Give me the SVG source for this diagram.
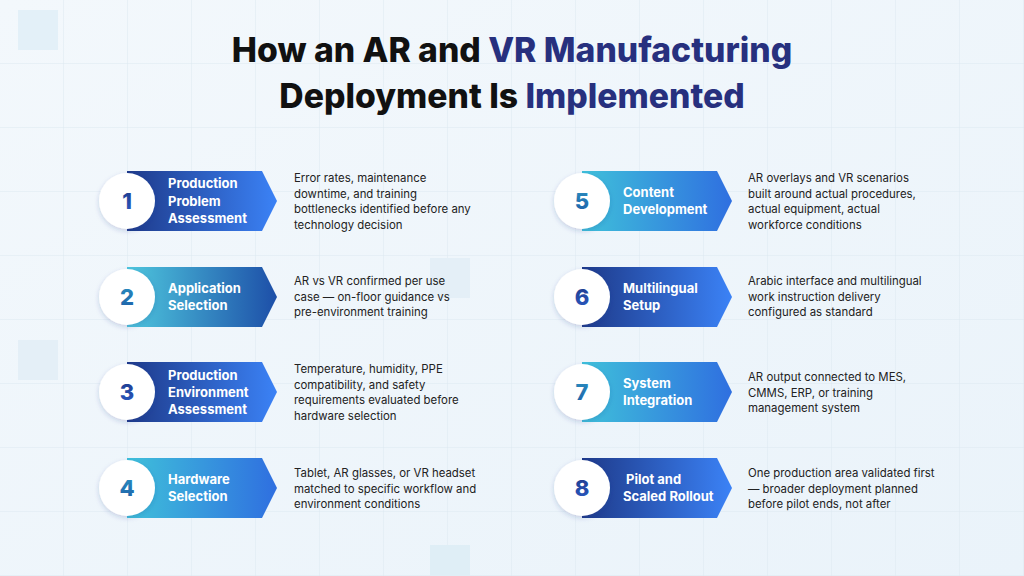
<svg xmlns="http://www.w3.org/2000/svg" width="1024" height="576" viewBox="0 0 1024 576">
<defs>
<linearGradient id="bg" x1="0" y1="0" x2="1" y2="1"><stop offset="0" stop-color="#f3f8fc"/><stop offset="1" stop-color="#eaf3fa"/></linearGradient>
<linearGradient id="gA" x1="0" y1="0" x2="1" y2="0"><stop offset="0" stop-color="#1e3a8a"/><stop offset="1" stop-color="#3b82f6"/></linearGradient>
<linearGradient id="gB" x1="0" y1="0" x2="1" y2="0"><stop offset="0" stop-color="#4ec6dd"/><stop offset="1" stop-color="#1d4fa8"/></linearGradient>
<linearGradient id="gC" x1="0" y1="0" x2="1" y2="0"><stop offset="0" stop-color="#3fc0da"/><stop offset="1" stop-color="#2f6fe0"/></linearGradient>
<linearGradient id="nA" x1="0" y1="0" x2="0" y2="1"><stop offset="0" stop-color="#1e3a8a"/><stop offset="1" stop-color="#2b5bc4"/></linearGradient>
<linearGradient id="nB" x1="0" y1="0" x2="0" y2="1"><stop offset="0" stop-color="#2a8fc0"/><stop offset="1" stop-color="#1d5fa8"/></linearGradient>
<filter id="sh" x="-30%" y="-30%" width="160%" height="160%"><feDropShadow dx="0" dy="2" stdDeviation="2.5" flood-color="#1e3a8a" flood-opacity="0.2"/></filter>
<pattern id="grid" width="64" height="64" patternUnits="userSpaceOnUse"><path d="M64 0V64H0" fill="none" stroke="#dde8f1" stroke-width="1"/></pattern>
</defs>
<style>
.t{font-family:Inter,"Liberation Sans",sans-serif;font-weight:800;font-size:33.7px;fill:#111}
.h{fill:#27307e}
.lb{font-family:Inter,"Liberation Sans",sans-serif;font-weight:700;font-size:13px;fill:#fff}
.num{font-family:Inter,"Liberation Sans",sans-serif;font-weight:800;font-size:22px;text-anchor:middle}
.d{font-family:Inter,"Liberation Sans",sans-serif;font-size:11.4px;fill:#222}
</style>
<rect width="1024" height="576" fill="url(#bg)"/>
<rect width="1024" height="576" fill="url(#grid)"/>
<rect x="18" y="10" width="40" height="40" fill="#dfeef6" opacity="0.8"/>
<rect x="430" y="545" width="40" height="31" fill="#dfeef6"/>
<rect x="430" y="258" width="40" height="40" fill="#e4eff7"/>
<rect x="18" y="340" width="40" height="40" fill="#e4eff7"/>
<text class="t" x="512" y="62" text-anchor="middle">How an AR and <tspan class="h">VR Manufacturing</tspan></text>
<text class="t" x="512" y="108" text-anchor="middle">Deployment Is <tspan class="h">Implemented</tspan></text>
<g id="connectors"/>
<g id="n1"><path d="M127 171H262L277 201L262 231H127Z" fill="url(#gA)"/><circle cx="127" cy="201" r="28" fill="#fff" filter="url(#sh)"/><text class="num" x="127" y="209" fill="url(#nA)">1</text>
<text class="lb" x="168" y="188">Production</text><text class="lb" x="168" y="206">Problem</text><text class="lb" x="168" y="223">Assessment</text>
<text class="d" x="294" y="182">Error rates, maintenance</text><text class="d" x="294" y="197.5">downtime, and training</text><text class="d" x="294" y="213">bottlenecks identified before any</text><text class="d" x="294" y="228.5">technology decision</text></g>
<g id="n2"><path d="M127 267H262L277 297L262 327H127Z" fill="url(#gB)"/><circle cx="127" cy="297" r="28" fill="#fff" filter="url(#sh)"/><text class="num" x="127" y="305" fill="url(#nB)">2</text>
<text class="lb" x="168" y="293">Application</text><text class="lb" x="168" y="310">Selection</text>
<text class="d" x="294" y="285">AR vs VR confirmed per use</text><text class="d" x="294" y="300.5">case — on-floor guidance vs</text><text class="d" x="294" y="316">pre-environment training</text></g>
<g id="n3"><path d="M127 362H262L277 392L262 422H127Z" fill="url(#gA)"/><circle cx="127" cy="392" r="28" fill="#fff" filter="url(#sh)"/><text class="num" x="127" y="400" fill="url(#nA)">3</text>
<text class="lb" x="168" y="380">Production</text><text class="lb" x="168" y="397">Environment</text><text class="lb" x="168" y="414">Assessment</text>
<text class="d" x="294" y="373">Temperature, humidity, PPE</text><text class="d" x="294" y="388.5">compatibility, and safety</text><text class="d" x="294" y="404">requirements evaluated before</text><text class="d" x="294" y="419.5">hardware selection</text></g>
<g id="n4"><path d="M127 458H262L277 488L262 518H127Z" fill="url(#gC)"/><circle cx="127" cy="488" r="28" fill="#fff" filter="url(#sh)"/><text class="num" x="127" y="496" fill="url(#nB)">4</text>
<text class="lb" x="168" y="484">Hardware</text><text class="lb" x="168" y="501">Selection</text>
<text class="d" x="294" y="477">Tablet, AR glasses, or VR headset</text><text class="d" x="294" y="492.5">matched to specific workflow and</text><text class="d" x="294" y="508">environment conditions</text></g>
<g id="n5"><path d="M582 171H717L732 201L717 231H582Z" fill="url(#gC)"/><circle cx="582" cy="201" r="28" fill="#fff" filter="url(#sh)"/><text class="num" x="582" y="209" fill="url(#nB)">5</text>
<text class="lb" x="623" y="197">Content</text><text class="lb" x="623" y="214">Development</text>
<text class="d" x="748" y="182">AR overlays and VR scenarios</text><text class="d" x="748" y="197.5">built around actual procedures,</text><text class="d" x="748" y="213">actual equipment, actual</text><text class="d" x="748" y="228.5">workforce conditions</text></g>
<g id="n6"><path d="M582 267H717L732 297L717 327H582Z" fill="url(#gA)"/><circle cx="582" cy="297" r="28" fill="#fff" filter="url(#sh)"/><text class="num" x="582" y="305" fill="url(#nA)">6</text>
<text class="lb" x="623" y="293">Multilingual</text><text class="lb" x="623" y="310">Setup</text>
<text class="d" x="748" y="285">Arabic interface and multilingual</text><text class="d" x="748" y="300.5">work instruction delivery</text><text class="d" x="748" y="316">configured as standard</text></g>
<g id="n7"><path d="M582 362H717L732 392L717 422H582Z" fill="url(#gC)"/><circle cx="582" cy="392" r="28" fill="#fff" filter="url(#sh)"/><text class="num" x="582" y="400" fill="url(#nB)">7</text>
<text class="lb" x="623" y="388">System</text><text class="lb" x="623" y="405">Integration</text>
<text class="d" x="748" y="381">AR output connected to MES,</text><text class="d" x="748" y="396.5">CMMS, ERP, or training</text><text class="d" x="748" y="412">management system</text></g>
<g id="n8"><path d="M582 458H717L732 488L717 518H582Z" fill="url(#gA)"/><circle cx="582" cy="488" r="28" fill="#fff" filter="url(#sh)"/><text class="num" x="582" y="496" fill="url(#nA)">8</text>
<text class="lb" x="626" y="484">Pilot and</text><text class="lb" x="623" y="501">Scaled Rollout</text>
<text class="d" x="748" y="477">One production area validated first</text><text class="d" x="748" y="492.5">— broader deployment planned</text><text class="d" x="748" y="508">before pilot ends, not after</text></g>
</svg>
